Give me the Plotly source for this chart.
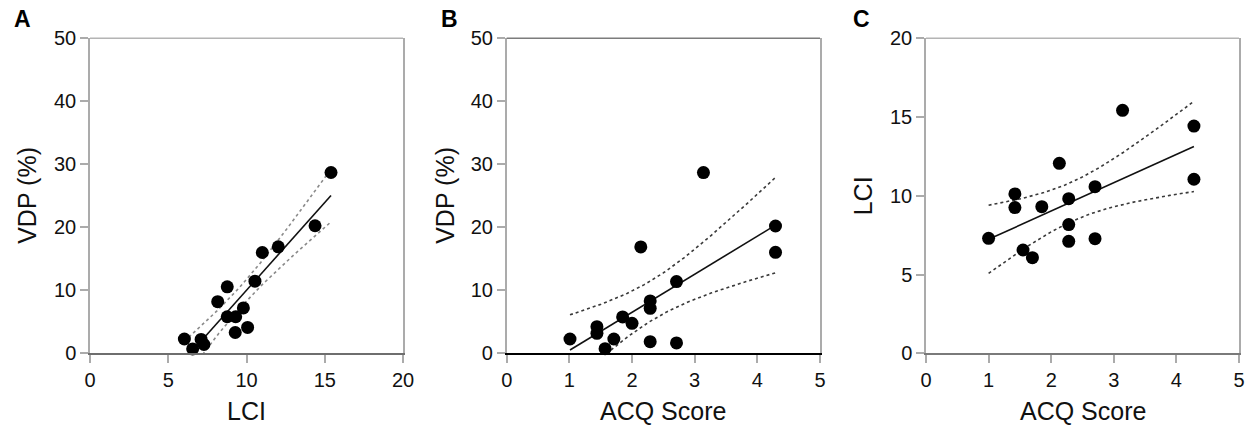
import numpy as np
import plotly.graph_objects as go

# ---------------- data ----------------
# Panel A: LCI vs VDP
a_lci = [6.03, 6.56, 7.10, 7.28, 8.16, 8.77, 8.77, 9.31, 9.28, 9.80, 10.07, 10.54, 11.01, 12.03, 14.38, 15.40]
a_vdp = [2.27, 0.70, 2.20, 1.40, 8.20, 10.55, 5.80, 5.80, 3.30, 7.20, 4.10, 11.45, 16.00, 16.90, 20.25, 28.70]

# Panel B: ACQ score vs VDP
b_acq = [1.01, 1.44, 1.44, 1.57, 1.71, 1.85, 2.00, 2.14, 2.29, 2.29, 2.29, 2.71, 2.71, 3.14, 4.29, 4.29]
b_vdp = [2.27, 4.23, 3.17, 0.74, 2.27, 5.77, 4.76, 16.88, 8.31, 7.14, 1.85, 11.38, 1.64, 28.68, 20.21, 16.03]

# Panel C: ACQ score vs LCI
c_acq = [1.00, 1.42, 1.42, 1.55, 1.70, 1.85, 2.13, 2.28, 2.28, 2.28, 2.70, 2.70, 3.14, 4.28, 4.28]
c_lci = [7.30, 10.12, 9.25, 6.56, 6.07, 9.31, 12.06, 9.82, 8.17, 7.11, 10.58, 7.28, 15.43, 14.43, 11.05]

panel_labels = ["A", "B", "C"]
x_titles = ["LCI", "ACQ Score", "ACQ Score"]
y_titles = ["VDP (%)", "VDP (%)", "LCI"]
x_ranges = [[0, 20], [0, 5], [0, 5]]
y_ranges = [[0, 50], [0, 50], [0, 20]]
x_dticks = [5, 1, 1]
y_dticks = [10, 10, 5]

# t critical values (two-sided 95%) by degrees of freedom
T975 = {13: 2.1604, 14: 2.1448}

FONT = "Liberation Sans, Arial, Helvetica, sans-serif"
W, H = 1253, 431


def px(xp):
    return xp / W


def py(yp):
    return (H - yp) / H


x_domains = [[px(90), px(403)], [px(506.7), px(820)], [px(926), px(1239)]]
y_domain = [py(353.3), py(38.3)]
label_x = [px(13), px(440), px(852)]
label_y = py(19)
ytitle_x = [px(27), px(445), px(862.5)]
xtitle_y = py(411)
bottom_colors = ["#6e6e6e", "#000000", "#7a7a7a"]
top_colors = ["#b4b4b4", "#7c7c7c", "#b4b4b4"]
band_colors = ["#8a8a8a", "#3a3a3a", "#3a3a3a"]
frame_gray = "#ababab"
text_color = "#111111"


def fit_with_band(x, y):
    x = np.asarray(x, float)
    y = np.asarray(y, float)
    n = len(x)
    slope, intercept = np.polyfit(x, y, 1)
    resid = y - (slope * x + intercept)
    s = np.sqrt(np.sum(resid ** 2) / (n - 2))
    xm = x.mean()
    sxx = np.sum((x - xm) ** 2)
    xs = np.linspace(x.min(), x.max(), 120)
    yfit = slope * xs + intercept
    half = T975[n - 2] * s * np.sqrt(1.0 / n + (xs - xm) ** 2 / sxx)
    return xs, yfit, yfit - half, yfit + half


fig = go.Figure()
datasets = [(a_lci, a_vdp), (b_acq, b_vdp), (c_acq, c_lci)]

for i, (xv, yv) in enumerate(datasets):
    xa = "x" if i == 0 else f"x{i + 1}"
    ya = "y" if i == 0 else f"y{i + 1}"
    xs, yfit, lo, hi = fit_with_band(xv, yv)
    for band in (hi, lo):
        fig.add_trace(go.Scatter(x=xs, y=band, mode="lines", xaxis=xa, yaxis=ya,
                                 line=dict(color=band_colors[i], width=1.6, dash="dot"),
                                 showlegend=False, hoverinfo="skip"))
    fig.add_trace(go.Scatter(x=xs, y=yfit, mode="lines", xaxis=xa, yaxis=ya,
                             line=dict(color="#111111", width=1.6),
                             showlegend=False, hoverinfo="skip"))
    fig.add_trace(go.Scatter(x=xv, y=yv, mode="markers", xaxis=xa, yaxis=ya,
                             marker=dict(color="#000000", size=13, line=dict(width=0)),
                             cliponaxis=False, showlegend=False))

    xkey = "xaxis" if i == 0 else f"xaxis{i + 1}"
    ykey = "yaxis" if i == 0 else f"yaxis{i + 1}"
    fig.update_layout(**{
        xkey: dict(domain=x_domains[i], anchor=ya, range=x_ranges[i], dtick=x_dticks[i], tick0=0,
                   showgrid=False, zeroline=False, showline=True, mirror=False,
                   linecolor=bottom_colors[i], linewidth=1.5, automargin=False,
                   ticks="outside", ticklen=8, tickwidth=1.5, tickcolor=frame_gray,
                   tickfont=dict(family=FONT, size=20, color=text_color)),
        ykey: dict(domain=y_domain, anchor=xa, range=y_ranges[i], dtick=y_dticks[i], tick0=0,
                   showgrid=False, zeroline=False, showline=True, mirror=True,
                   linecolor=frame_gray, linewidth=1.5, automargin=False,
                   ticks="outside", ticklen=8, tickwidth=1.5, tickcolor=frame_gray,
                   tickfont=dict(family=FONT, size=20, color=text_color)),
    })
    # top frame line
    fig.add_shape(type="line", xref=f"{xa} domain", yref=f"{ya} domain", x0=0, x1=1, y0=1, y1=1,
                  line=dict(color=top_colors[i], width=1.5), layer="above")
    # panel letter
    fig.add_annotation(text=f"<b>{panel_labels[i]}</b>", xref="paper", yref="paper",
                       x=label_x[i], y=label_y, xanchor="left", yanchor="middle", borderpad=0,
                       showarrow=False, font=dict(family=FONT, size=23, color="#000000"))
    # axis titles
    fig.add_annotation(text=x_titles[i], xref="paper", yref="paper", borderpad=0,
                       x=sum(x_domains[i]) / 2, y=xtitle_y, xanchor="center", yanchor="middle",
                       showarrow=False, font=dict(family=FONT, size=25, color=text_color))
    fig.add_annotation(text=y_titles[i], xref="paper", yref="paper", textangle=-90, borderpad=0,
                       x=ytitle_x[i], y=sum(y_domain) / 2, xanchor="center", yanchor="middle",
                       showarrow=False, font=dict(family=FONT, size=25, color=text_color))

fig.update_layout(width=W, height=H, margin=dict(l=0, r=0, t=0, b=0, autoexpand=False),
                  plot_bgcolor="white", paper_bgcolor="white", showlegend=False)

# remove the browser's default 8px body margin so the figure fills the window exactly
fig.write_html("out.html", config={"displayModeBar": False},
               post_script="document.body.style.margin='0px';")
